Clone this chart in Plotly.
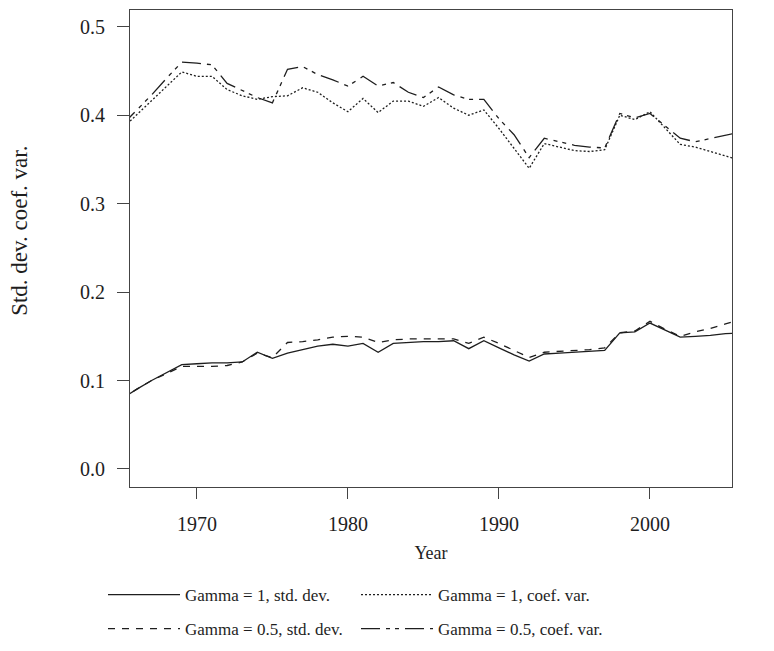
import plotly.graph_objects as go

years = list(range(1965, 2007))

# Gamma = 1, std. dev.
std_g1 = [0.079, 0.090, 0.100, 0.109, 0.118, 0.119, 0.120, 0.120, 0.121, 0.132,
          0.125, 0.131, 0.135, 0.139, 0.141, 0.139, 0.142, 0.132, 0.142, 0.143,
          0.144, 0.144, 0.145, 0.136, 0.145, 0.137, 0.129, 0.122, 0.130, 0.131,
          0.132, 0.133, 0.134, 0.154, 0.155, 0.165, 0.157, 0.149, 0.150, 0.151,
          0.153, 0.154]

# Gamma = 1, coef. var.
cv_g1 = [0.384, 0.400, 0.416, 0.432, 0.449, 0.444, 0.444, 0.429, 0.422, 0.418,
         0.421, 0.422, 0.431, 0.426, 0.414, 0.404, 0.419, 0.403, 0.416, 0.416,
         0.410, 0.420, 0.408, 0.400, 0.406, 0.385, 0.363, 0.340, 0.368, 0.364,
         0.360, 0.359, 0.361, 0.400, 0.395, 0.404, 0.386, 0.367, 0.364, 0.359,
         0.354, 0.349]

# Gamma = 0.5, std. dev.
std_g05 = [0.079, 0.090, 0.100, 0.108, 0.116, 0.116, 0.116, 0.117, 0.121, 0.131,
           0.126, 0.143, 0.144, 0.146, 0.149, 0.150, 0.149, 0.143, 0.146, 0.147,
           0.147, 0.147, 0.147, 0.142, 0.149, 0.142, 0.134, 0.126, 0.132, 0.133,
           0.134, 0.135, 0.137, 0.154, 0.156, 0.167, 0.158, 0.150, 0.155, 0.159,
           0.164, 0.169]

# Gamma = 0.5, coef. var.
cv_g05 = [0.388, 0.405, 0.423, 0.442, 0.460, 0.459, 0.457, 0.436, 0.428, 0.420,
          0.414, 0.452, 0.455, 0.446, 0.440, 0.433, 0.444, 0.433, 0.437, 0.426,
          0.420, 0.432, 0.423, 0.418, 0.418, 0.396, 0.378, 0.352, 0.374, 0.370,
          0.366, 0.364, 0.363, 0.402, 0.397, 0.402, 0.388, 0.374, 0.370, 0.374,
          0.378, 0.381]

x_ticks = [1970, 1980, 1990, 2000]
y_ticks = [0.0, 0.1, 0.2, 0.3, 0.4, 0.5]
y_ticktext = ["0.0", "0.1", "0.2", "0.3", "0.4", "0.5"]

FONT = "Liberation Serif"
INK = "#1e1e1e"

# page body adds an 8px margin, so the figure is a bit smaller than the window
W, H = 766, 643

series = [
    ("Gamma = 1, std. dev.", std_g1, "solid", "legend"),
    ("Gamma = 1, coef. var.", cv_g1, "2px,2px", "legend"),
    ("Gamma = 0.5, std. dev.", std_g05, "7px,7px", "legend2"),
    ("Gamma = 0.5, coef. var.", cv_g05, "19px,6px,4px,5px,4px,6px", "legend2"),
]

fig = go.Figure()
for name, vals, dash, leg in series:
    fig.add_trace(
        go.Scatter(
            x=years,
            y=vals,
            mode="lines",
            name=name,
            legend=leg,
            line=dict(color=INK, width=1.3, dash=dash),
        )
    )

legend_style = dict(
    orientation="h",
    xref="container",
    yref="container",
    xanchor="left",
    yanchor="middle",
    entrywidth=166,
    entrywidthmode="pixels",
    itemwidth=72,
    font=dict(family=FONT, size=17, color=INK),
    bgcolor="rgba(0,0,0,0)",
    traceorder="normal",
    itemclick=False,
)

fig.update_layout(
    width=W,
    height=H,
    paper_bgcolor="white",
    plot_bgcolor="white",
    template="plotly_white",
    font=dict(family=FONT, size=17, color=INK),
    margin=dict(l=122, r=42, t=2, b=164),
    showlegend=True,
    legend=dict(legend_style, x=95 / W, y=1 - 587 / H),
    legend2=dict(legend_style, x=95 / W, y=1 - 621 / H),
    annotations=[
        dict(
            text="Std. dev. coef. var.",
            xref="paper",
            yref="paper",
            x=0,
            y=0.537,
            xshift=-110,
            xanchor="center",
            yanchor="middle",
            textangle=-90,
            showarrow=False,
            font=dict(family=FONT, size=23, color=INK),
        )
    ],
)

fig.update_xaxes(
    range=[1965.57, 2005.43],
    tickvals=x_ticks,
    ticks="outside",
    ticklen=11,
    tickwidth=1,
    tickcolor="#444",
    ticklabelstandoff=8,
    tickfont=dict(family=FONT, size=20, color=INK),
    showgrid=False,
    zeroline=False,
    showline=True,
    linecolor="#444",
    linewidth=1,
    mirror=True,
    automargin=False,
    title=dict(text="Year", font=dict(family=FONT, size=18, color=INK), standoff=12),
)

fig.update_yaxes(
    range=[-0.0204, 0.519],
    tickvals=y_ticks,
    ticktext=y_ticktext,
    ticks="outside",
    ticklen=12,
    tickwidth=1,
    tickcolor="#444",
    ticklabelstandoff=8,
    tickfont=dict(family=FONT, size=20, color=INK),
    showgrid=False,
    zeroline=False,
    showline=True,
    linecolor="#444",
    linewidth=1,
    mirror=True,
    automargin=False,
)

fig.write_html("out.html")
